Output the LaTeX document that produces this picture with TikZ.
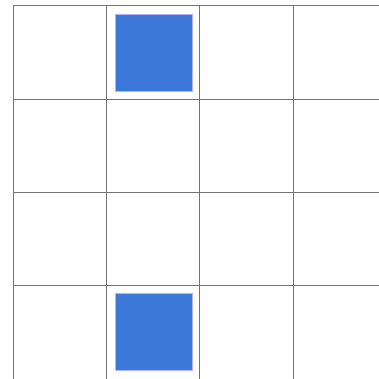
\documentclass[tikz,border=0pt]{standalone}
\usetikzlibrary{positioning}

\begin{document}
\begin{tikzpicture}[
  x=1pt, y=-1pt,
  gridline/.style={draw=gray!90!black, line width=1pt},
  piece/.style={draw=blue!30!white, line width=0.6pt, fill=tileblue,
                minimum width=77pt, minimum height=77pt, inner sep=0pt},
]
  \definecolor{tileblue}{HTML}{3B78D8}
  \useasboundingbox (0,0) rectangle (379,378);

  % Grid
  \foreach \i in {0,...,4} {
    \draw[gridline] ({13.3+93.3*\i}, 5.7) -- ({13.3+93.3*\i}, 379.5);
    \draw[gridline] (13.3, {5.7+93.3*\i+0.35*(\i==4)}) -- (379, {5.7+93.3*\i+0.35*(\i==4)});
  }

  % Pieces
  \node[piece] (top) at (153.4, 52.4) {};
  \node[piece] (bottom) at (153.4, 332.0) {};
\end{tikzpicture}
\end{document}
